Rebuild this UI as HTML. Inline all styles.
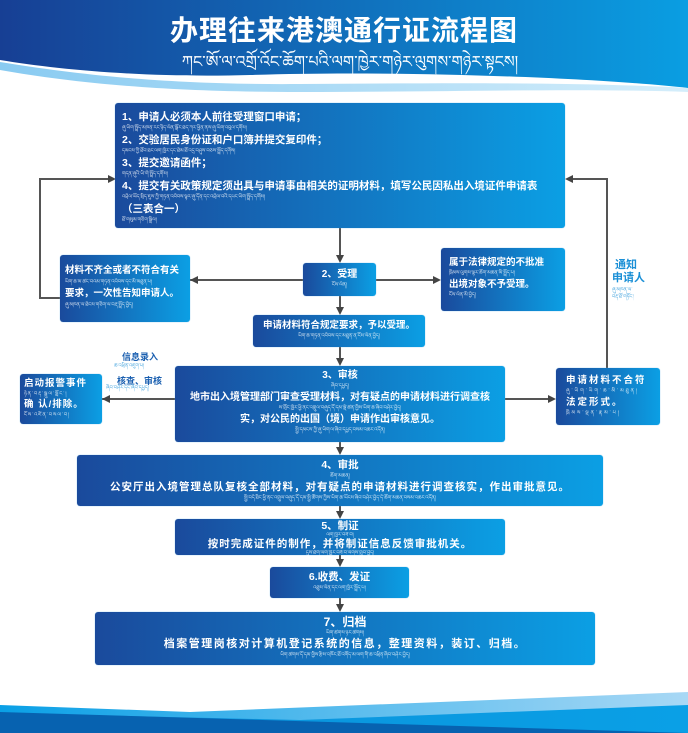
<!DOCTYPE html>
<html><head><meta charset="utf-8"><style>
*{margin:0;padding:0;box-sizing:border-box}
body{width:688px;height:733px;position:relative;background:#fff;overflow:hidden;font-family:"Liberation Sans","Noto Sans CJK SC",sans-serif}
.b{position:absolute;background:linear-gradient(90deg,#1a4a9c,#0b9fe4);border-radius:3px;color:#fff;font-weight:bold;box-shadow:0 0 1px #6bb8e8}
.t{font-size:5px;font-weight:normal;opacity:.85;white-space:nowrap;overflow:hidden;line-height:9px}
.c{text-align:center}
.l{position:absolute;background:#555}
.ah{position:absolute;width:0;height:0}
.ad{border-left:4px solid transparent;border-right:4px solid transparent;border-top:8px solid #444}
.ar{border-top:4px solid transparent;border-bottom:4px solid transparent;border-left:8px solid #444}
.al{border-top:4px solid transparent;border-bottom:4px solid transparent;border-right:8px solid #444}
.lbl{position:absolute;color:#1a8fd6;font-weight:bold;font-size:11px}
</style></head><body>
<svg width="688" height="110" style="position:absolute;left:0;top:0">
<defs><linearGradient id="g" x1="0" x2="1"><stop offset="0" stop-color="#173f94"/><stop offset="1" stop-color="#0a9ee2"/></linearGradient>
<linearGradient id="w" x1="0" x2="1"><stop offset="0" stop-color="#3aa8e8"/><stop offset="1" stop-color="#b8e2f8"/></linearGradient></defs>
<path d="M0 0H688V88C600 78 400 70 250 75C150 78 60 70 0 60Z" fill="url(#g)"/>
<path d="M0 62C80 75 170 85 300 84C450 83 580 82 688 88V92C580 88 450 92 300 92C170 92 80 84 0 70Z" fill="url(#w)" opacity=".6"/>
</svg>
<div style="position:absolute;left:0;top:9px;width:688px;text-align:center;color:#fff;font-size:28px;font-weight:bold;letter-spacing:1px">办理往来港澳通行证流程图</div>
<div style="position:absolute;left:140px;top:44px;width:420px;text-align:center;color:#fff;font-size:16px;font-family:'DejaVu Sans',sans-serif;white-space:nowrap;overflow:hidden">ཀང་ཨོ་ལ་འགྲོ་འོང་ཆོག་པའི་ལག་ཁྱེར་གཉེར་ལུགས་གཉེར་སྟངས།</div>

<svg width="688" height="50" style="position:absolute;left:0;top:683px">
<defs><linearGradient id="h" x1="0" x2="1"><stop offset="0" stop-color="#0a8fd8"/><stop offset="1" stop-color="#0aa0e6"/></linearGradient>
<linearGradient id="h2" x1="0" x2="1"><stop offset="0" stop-color="#0aa0e6"/><stop offset="1" stop-color="#a8d8f5"/></linearGradient></defs>
<path d="M0 22L190 29L688 9V50H0Z" fill="url(#h2)"/>
<path d="M0 30L300 37L688 22V50H0Z" fill="url(#h)"/>
<path d="M0 29L688 50H0Z" fill="#0762b0"/>
</svg>

<div class="l" style="left:339px;top:228px;width:2px;height:28px"></div><div class="ah ad" style="left:336px;top:255px"></div>
<div class="l" style="left:339px;top:296px;width:2px;height:12px"></div><div class="ah ad" style="left:336px;top:307px"></div>
<div class="l" style="left:339px;top:347px;width:2px;height:12px"></div><div class="ah ad" style="left:336px;top:358px"></div>
<div class="l" style="left:339px;top:442px;width:2px;height:6px"></div><div class="ah ad" style="left:336px;top:447px"></div>
<div class="l" style="left:339px;top:506px;width:2px;height:6px"></div><div class="ah ad" style="left:336px;top:511px"></div>
<div class="l" style="left:339px;top:555px;width:2px;height:5px"></div><div class="ah ad" style="left:336px;top:559px"></div>
<div class="l" style="left:339px;top:598px;width:2px;height:6px"></div><div class="ah ad" style="left:336px;top:604px"></div>
<div class="l" style="left:190px;top:279px;width:113px;height:1.5px"></div><div class="ah al" style="left:190px;top:276px"></div>
<div class="l" style="left:376px;top:279px;width:58px;height:1.5px"></div><div class="ah ar" style="left:433px;top:276px"></div>
<div class="l" style="left:102px;top:398px;width:73px;height:1.5px"></div><div class="ah al" style="left:102px;top:395px"></div>
<div class="l" style="left:505px;top:398px;width:44px;height:1.5px"></div><div class="ah ar" style="left:548px;top:395px"></div>
<div class="l" style="left:39px;top:178px;width:1.5px;height:120px"></div>
<div class="l" style="left:39px;top:297px;width:21px;height:1.5px"></div>
<div class="l" style="left:39px;top:178px;width:70px;height:1.5px"></div><div class="ah ar" style="left:108px;top:175px"></div>
<div class="l" style="left:606px;top:178px;width:1.5px;height:190px"></div>
<div class="l" style="left:572px;top:178px;width:35px;height:1.5px"></div><div class="ah al" style="left:565px;top:175px"></div>

<div class="b" style="left:115px;top:103px;width:450px;height:125px;padding:7px 7px;font-size:10.5px;line-height:14px">
<div>1、申请人必须本人前往受理窗口申请；</div><div class="t">ཞུ་ཡིག་སྤྲོད་མཁན་རང་ཉིད་ལེན་སྒོར་ཐད་ཀར་ཕྱིན་ནས་ཞུ་ཡིག་འབུལ་དགོས།</div>
<div>2、交验居民身份证和户口簿并提交复印件；</div><div class="t">དམངས་ཀྱི་ཐོབ་ཐང་ལག་ཁྱེར་དང་ཐེམ་ཐོ་འདྲ་བཤུས་བཅས་སྤྲོད་དགོས།</div>
<div>3、提交邀请函件；</div><div class="t">གདན་ཞུའི་ཡི་གེ་སྤྲོད་དགོས།</div>
<div>4、提交有关政策规定须出具与申请事由相关的证明材料，填写公民因私出入境证件申请表</div><div class="t">འབྲེལ་ཡོད་སྲིད་ཇུས་ཀྱི་གཏན་འབེབས་ལྟར་ཞུ་དོན་དང་འབྲེལ་བའི་དཔང་ཡིག་སྤྲོད་དགོས།</div>
<div>（三表合一）</div><div class="t">ཐོ་གསུམ་གཅིག་སྒྲིལ།</div></div>

<div class="b" style="left:60px;top:255px;width:130px;height:67px;padding:9px 5px;font-size:9.5px;line-height:14px">
<div>材料不齐全或者不符合有关</div><div class="t">ཡིག་ཆ་མ་ཚང་བའམ་གཏན་འབེབས་དང་མི་མཐུན་པ།</div>
<div>要求，一次性告知申请人。</div><div class="t">ཞུ་མཁན་ལ་ཐེངས་གཅིག་ལ་བརྡ་སྤྲོད་བྱེད།</div></div>

<div class="b c" style="left:303px;top:263px;width:73px;height:33px;padding-top:5px;font-size:10px;line-height:13px"><div>2、受理</div><div class="t">ངོས་ལེན།</div></div>

<div class="b" style="left:441px;top:248px;width:124px;height:63px;padding:8px 8px;font-size:9.5px;line-height:13px">
<div>属于法律规定的不批准</div><div class="t">ཁྲིམས་ལུགས་ལྟར་ཆོག་མཆན་མི་སྤྲོད་པ།</div>
<div>出境对象不予受理。</div><div class="t">ངོས་ལེན་མི་བྱེད།</div></div>

<div class="lbl" style="left:612px;top:259px;line-height:13px">&nbsp;通知<br>申请人</div>
<div class="t" style="position:absolute;left:612px;top:287px;color:#1a8fd6;line-height:7px">ཞུ་མཁན་ལ་<br>བརྡ་ཐོ་གཏོང་།</div>

<div class="b c" style="left:253px;top:315px;width:172px;height:32px;padding-top:4px;font-size:9.5px;line-height:13px"><div>申请材料符合规定要求，予以受理。</div><div class="t">ཡིག་ཆ་གཏན་འབེབས་དང་མཐུན་ན་ངོས་ལེན་བྱེད།</div></div>

<div class="lbl" style="left:122px;top:350px;font-size:9px;color:#1a5fb0">信息录入</div>
<div class="t" style="position:absolute;left:114px;top:362px;color:#1a8fd6">ཆ་འཕྲིན་འཇུག་པ།</div>
<div class="lbl" style="left:117px;top:374px;font-size:9px;color:#1a5fb0">核查、审核</div>
<div class="t" style="position:absolute;left:106px;top:384px;color:#1a8fd6">ཞིབ་བཤེར་དང་ཞིབ་དཔྱད།</div>

<div class="b" style="left:20px;top:374px;width:82px;height:50px;padding:4px 4px;font-size:9.5px;line-height:12px;letter-spacing:1px">
<div>启动报警事件</div><div class="t">ཉེན་བརྡ་སྒུལ་སློང་།</div><div>确 认/排除。</div><div class="t">ངོས་འཛིན་བསལ་བ།</div></div>

<div class="b c" style="left:175px;top:366px;width:330px;height:76px;padding-top:3px;font-size:10px;line-height:13px">
<div>3、审核</div><div class="t">ཞིབ་དཔྱད།</div>
<div>地市出入境管理部门审查受理材料，对有疑点的申请材料进行调查核</div><div class="t">ས་གྲོང་ཁྱེར་ཕྱི་ནང་འགྲུལ་བཞུད་དོ་དམ་སྡེ་ཚན་གྱིས་ཡིག་ཆ་ཞིབ་བཤེར་བྱེད།</div>
<div>实，对公民的出国（境）申请作出审核意见。</div><div class="t">སྤྱི་དམངས་ཀྱི་ཞུ་ཡིག་ལ་ཞིབ་དཔྱད་བསམ་འཆར་འདོན།</div></div>

<div class="b" style="left:556px;top:368px;width:104px;height:57px;padding:6px 10px;font-size:9.5px;line-height:13px;letter-spacing:2px">
<div>申请材料不合符</div><div class="t">ཞུ་ཡིག་ཡིག་ཆ་མི་མཐུན།</div><div>法定形式。</div><div class="t">ཁྲིམས་ལྡན་རྣམ་པ།</div></div>

<div class="b c" style="left:77px;top:455px;width:526px;height:51px;padding-top:4px;font-size:10.5px;line-height:13px">
<div>4、审批</div><div class="t">ཆོག་མཆན།</div>
<div style="letter-spacing:1px">公安厅出入境管理总队复核全部材料，对有疑点的申请材料进行调查核实，作出审批意见。</div><div class="t">སྤྱི་བདེ་ཐིང་ཕྱི་ནང་འགྲུལ་བཞུད་དོ་དམ་སྤྱི་ཚོགས་ཀྱིས་ཡིག་ཆ་ཡོངས་ཞིབ་བཤེར་བྱེད་དེ་ཆོག་མཆན་བསམ་འཆར་འདོན།</div></div>

<div class="b c" style="left:175px;top:519px;width:330px;height:36px;padding-top:2px;font-size:10.5px;line-height:11px">
<div>5、制证</div><div class="t" style="line-height:7px">ལག་ཁྱེར་བཟོ་བ།</div>
<div style="letter-spacing:1px">按时完成证件的制作，并将制证信息反馈审批机关。</div><div class="t" style="line-height:7px">དུས་ཐོག་ལག་ཁྱེར་བཟོ་བ་ལེགས་གྲུབ་བྱེད།</div></div>

<div class="b c" style="left:270px;top:567px;width:139px;height:31px;padding-top:4px;font-size:10.5px;line-height:13px">
<div>6.收费、发证</div><div class="t">འཐུས་ལེན་དང་ལག་ཁྱེར་སྤྲོད་པ།</div></div>

<div class="b c" style="left:95px;top:612px;width:500px;height:53px;padding-top:4px;font-size:11px;line-height:13px">
<div style="font-size:12px">7、归档</div><div class="t">ཡིག་ཚགས་ཉར་ཚགས།</div>
<div style="letter-spacing:1.5px">档案管理岗核对计算机登记系统的信息，整理资料，装订、归档。</div><div class="t">ཡིག་ཚགས་དོ་དམ་གྱིས་རྩིས་འཁོར་ཐོ་འགོད་མ་ལག་གི་ཆ་འཕྲིན་ཞིབ་བཤེར་བྱེད།</div></div>
</body></html>
